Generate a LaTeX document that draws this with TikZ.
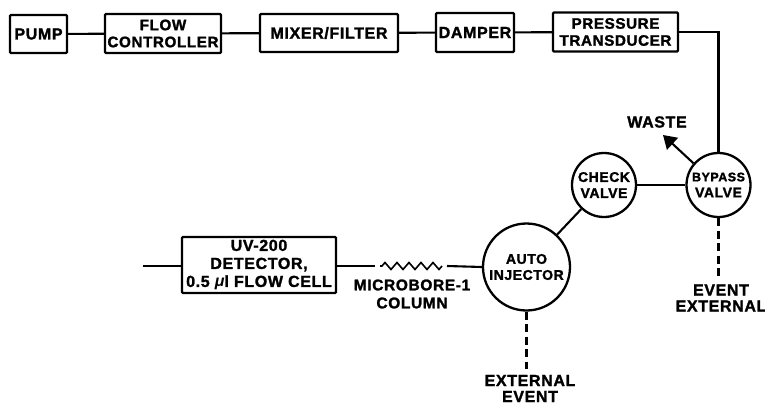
\documentclass[tikz,border=0pt]{standalone}
\usepackage{fontspec}
\setmainfont[BoldFeatures={FakeBold=1.6,LetterSpace=4}]{Liberation Sans}
\usetikzlibrary{arrows.meta, decorations.pathmorphing}

\tikzset{
  boxnode/.style={draw, line width=2.3pt, rounded corners=1pt, inner sep=0pt, align=center, font=\bfseries\fontsize{16}{17}\selectfont},
  valvenode/.style={draw, circle, line width=2.3pt, inner sep=0pt, align=center, font=\bfseries\fontsize{14}{16}\selectfont},
  labelnode/.style={inner sep=0pt, align=center, font=\bfseries\fontsize{16}{16}\selectfont},
  pipe/.style={line width=2.1pt},
  signal/.style={line width=2.1pt, dash pattern=on 8pt off 4.5pt}
}

\begin{document}
\begin{tikzpicture}[x=1pt, y=-1pt]
  \useasboundingbox (0,0) rectangle (765,404);

  % Top row
  \node[boxnode, minimum width=57pt, minimum height=38pt] (pump) at (38.5,34) {PUMP};
  \node[boxnode, font=\bfseries\fontsize{15.2}{17}\selectfont, minimum width=116pt, minimum height=39pt] (flowctrl) at (163,33.5) {FLOW\\CONTROLLER};
  \node[boxnode, minimum width=138pt, minimum height=38pt] (mixer) at (329,33) {MIXER/FILTER};
  \node[boxnode, minimum width=78pt, minimum height=39pt] (damper) at (475,32.5) {DAMPER};
  \node[boxnode, font=\bfseries\fontsize{15.2}{17}\selectfont, minimum width=125pt, minimum height=39pt] (transducer) at (615.5,32) {PRESSURE\\TRANSDUCER};

  % Valves
  \node[valvenode, minimum size=64pt] (bypass) at (718.5,185) {\fontsize{12.5}{15}\selectfont BYPASS\\VALVE};
  \node[valvenode, minimum size=64pt] (check) at (604,185) {CHECK\\VALVE};
  \node[valvenode, minimum size=87pt] (injector) at (526.5,267) {AUTO\\INJECTOR};

  % Bottom row
  \node[boxnode, font=\bfseries\fontsize{16}{18}\selectfont, minimum width=154pt, minimum height=56pt] (detector) at (259,265) {UV-200\\DETECTOR,\\0.5 {\itshape μ}l FLOW CELL};
  \coordinate (detin) at (143,266);
  \coordinate (colleft) at (375,266);
  \coordinate (zigleft) at (380,266);
  \coordinate (zigright) at (442,266);
  \coordinate (colright) at (447,266);

  % Labels
  \node[labelnode] (waste) at (657,122) {WASTE};
  \coordinate (wastetip) at (663,135);
  \node[labelnode, font=\bfseries\fontsize{15.5}{18}\selectfont] (column) at (412,294) {MICROBORE-1\\COLUMN};
  \node[labelnode] (extevent) at (530,388.5) {EXTERNAL\\EVENT};
  \node[labelnode] (eventext) at (721,298) {EVENT\\EXTERNAL};

  % Flow path
  \draw[pipe] (pump) -- (flowctrl);
  \draw[pipe] (flowctrl) -- (mixer);
  \draw[pipe] (mixer) -- (damper);
  \draw[pipe] (damper) -- (transducer);
  \draw[pipe] (transducer.east) -| (bypass.north);
  \draw[pipe] (bypass) -- (check);
  \draw[pipe] (check) -- (injector);
  \draw[pipe] (injector.west) -- (colright);
  \draw[pipe, line width=1.6pt, decorate, decoration={zigzag, amplitude=3.5pt, segment length=12pt}] (zigright) -- (zigleft);
  \draw[pipe] (colleft) -- (detector.east |- colleft);
  \draw[pipe] (detector.west |- detin) -- (detin);

  % Waste outlet
  \draw[pipe, -{Triangle[length=13pt, width=16pt]}] (bypass.139) -- (wastetip);

  % Event lines
  \draw[signal] (bypass.south) -- ([yshift=6pt]bypass.south |- eventext.north);
  \draw[signal] (injector.south) -- ([yshift=6pt]injector.south |- extevent.north);
\end{tikzpicture}
\end{document}
